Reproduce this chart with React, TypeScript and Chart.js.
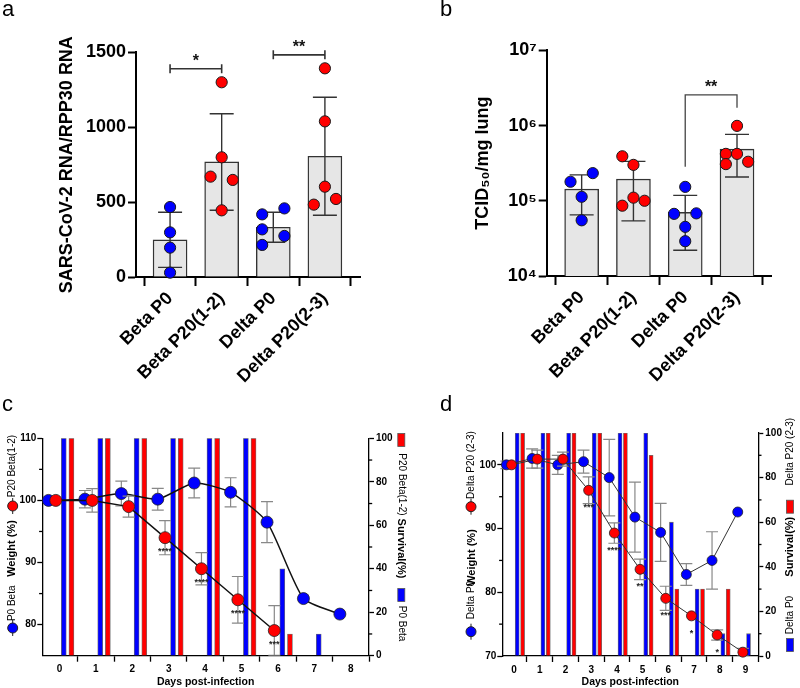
import React, { useEffect, useRef } from 'react';
import { Chart, registerables } from 'chart.js';

Chart.register(...registerables);

const FONT = "'Liberation Sans', Arimo, Arial, Helvetica, sans-serif";
const BLUE = '#0000ff';
const RED = '#ff0000';

/* ---------------- data: panel a ---------------- */
const GROUPS = ['Beta P0', 'Beta P20(1-2)', 'Delta P0', 'Delta P20(2-3)'];
const A_MEAN = [248, 768, 332, 806];
const A_SD = [184, 322, 100, 394];
const A_BETA_P0 = [467, 298, 196, 29];
const A_BETA_P20 = [1300, 799, 670, 648, 445];
const A_DELTA_P0 = [418, 458, 318, 274, 214];
const A_DELTA_P20 = [1393, 1039, 603, 483, 521];
const A_TICKS = [0, 500, 1000, 1500];
const A_SIG = [{ a: 0, b: 1, text: '*' }, { a: 2, b: 3, text: '**' }];

/* ---------------- data: panel b ---------------- */
const B_MEAN = [143000, 194000, 70000, 485000];
const B_SD = [78000, 140000, 48000, 278000];
const B_BETA_P0 = [179000, 233000, 113000, 55000];
const B_BETA_P20 = [390000, 300000, 110000, 100000, 86000];
const B_DELTA_P0 = [153000, 67000, 68000, 45000, 29000];
const B_DELTA_P20 = [990000, 420000, 420000, 307000, 330000];
const B_TICKS = [1e4, 1e5, 1e6, 1e7];
const B_TICK_LABELS = ['10\u2074', '10\u2075', '10\u2076', '10\u2077'];
const B_SIG = [{ a: 2, b: 3, text: '**' }];

/* ---------------- data: panel c ---------------- */
const C_DAYS = [0, 1, 2, 3, 4, 5, 6, 7, 8];
const C_P0_WEIGHT = [100, 100.2, 101.1, 100.2, 102.8, 101.3, 96.5, 84.2, 81.7];
const C_P0_SD = [0, 1.4, 2.0, 1.75, 2.4, 2.35, 3.3, 0, 0];
const C_P20_WEIGHT = [100, 100, 99.0, 94.0, 89.0, 84.0, 79.05];
const C_P20_SD = [0, 1.9, 1.7, 2.75, 2.6, 3.75, 4.0];
const C_P20_STARS = ['', '', '', '****', '****', '****', '***'];
const C_P0_SURVIVAL = [100, 100, 100, 100, 100, 100, 40, 10, 0];
const C_P20_SURVIVAL = [100, 100, 100, 100, 100, 100, 10, 0, 0];
const C_WEIGHT_TICKS = [80, 85, 90, 95, 100, 105, 110];

/* ---------------- data: panel d ---------------- */
const D_DAYS = [0, 1, 2, 3, 4, 5, 6, 7, 8, 9];
const D_P0_WEIGHT = [100, 101.0, 100, 100.5, 98.0, 91.8, 89.4, 82.8, 85.0, 92.6];
const D_P0_SD = [0.6, 1.5, 1.5, 1.8, 6.0, 5.5, 4.55, 1.7, 4.5, 0];
const D_P20_WEIGHT = [100, 100.9, 100.9, 96.0, 89.3, 83.6, 79.05, 76.3, 73.3, 70.6];
const D_P20_SD = [0, 1.4, 1.1, 2.1, 1.6, 1.6, 1.9, 0, 0.8, 0.6];
const D_P20_STARS = ['', '', '', '***', '****', '**', '***', '*', '*', ''];
const D_P0_SURVIVAL = [100, 100, 100, 100, 100, 100, 60, 30, 10, 10];
const D_P20_SURVIVAL = [100, 100, 100, 100, 100, 90, 30, 30, 30, 0];
const D_WEIGHT_TICKS = [70, 75, 80, 85, 90, 95, 100];
const SURVIVAL_TICKS = [0, 10, 20, 30, 40, 50, 60, 70, 80, 90, 100];

/* ---------------- styling / layout constants ---------------- */
const GROUP_COLORS = [BLUE, RED, BLUE, RED];
const JITTER_STEP = 0.215;
const A_JITTER = [[0, 0, 0, 0], [0, 0, -1, 1, 0], [-1, 1, -1, 1, -1], [0, 0, 0, -1, 1]];
const B_JITTER = [[-1, 1, 0, 0], [-1, 0, 0, 1, -1], [0, -1, 1, 0, 0], [0, -1, 0, -1, 1]];
const P0_POINT_SHIFT = -0.3;
const P20_POINT_SHIFT = -0.1;
const P0_BAR_SHIFT = 0.12;
const P20_BAR_SHIFT = 0.33;

const font = (size: number, bold = true) => ({ family: FONT, size, weight: bold ? 'bold' : 'normal' } as any);

function axisStyle(width: number, tickLength: number, isMajor?: (v: number) => boolean) {
  return {
    grid: {
      display: true, drawOnChartArea: false, drawTicks: true, tickLength, tickWidth: width,
      tickColor: isMajor ? (c: any) => (c.tick && isMajor(c.tick.value) ? '#000' : 'rgba(0,0,0,0)') : '#000',
    },
    border: { display: true, color: '#000', width },
  };
}

/* ---------------- plugins ---------------- */
function drawErrors(chart: any, index: number, when: string) {
  const ds: any = chart.data.datasets[index];
  if (!ds || !ds.errors || ds.errorWhen !== when) return;
  const meta = chart.getDatasetMeta(index);
  const yS = chart.scales[meta.yAxisID];
  const { ctx, chartArea } = chart;
  ctx.save();
  ctx.beginPath();
  ctx.rect(chartArea.left - 20, chartArea.top - 30, chartArea.width + 40, chartArea.height + 30);
  ctx.clip();
  ctx.strokeStyle = ds.errorColor;
  ctx.lineWidth = ds.errorWidth;
  meta.data.forEach((el: any, i: number) => {
    const e = ds.errors[i];
    const raw = ds.data[i];
    const v = raw == null ? null : typeof raw === 'number' ? raw : raw.y;
    if (!e || v == null) return;
    const x = el.x;
    const y1 = yS.getPixelForValue(v + e);
    const y2 = yS.getPixelForValue(v - e);
    const c = ds.errorCap;
    ctx.beginPath();
    ctx.moveTo(x, y1); ctx.lineTo(x, y2);
    ctx.moveTo(x - c, y1); ctx.lineTo(x + c, y1);
    ctx.moveTo(x - c, y2); ctx.lineTo(x + c, y2);
    ctx.stroke();
  });
  ctx.restore();
}

const errorBarPlugin = {
  id: 'errorBars',
  beforeDatasetDraw(chart: any, args: any) { drawErrors(chart, args.index, 'before'); },
  afterDatasetDraw(chart: any, args: any) { drawErrors(chart, args.index, 'after'); },
};

// short minor tick marks on the vertical axes of panels c and d
const minorTickPlugin = {
  id: 'minorTicks',
  afterDraw(chart: any) {
    const { ctx } = chart;
    ctx.save();
    ctx.strokeStyle = '#000';
    ctx.lineWidth = 1.3;
    for (const id of ['y', 'y2']) {
      const s = chart.scales[id];
      if (!s) continue;
      const step = id === 'y' ? 10 : 20;
      for (const t of s.ticks) {
        if (t.value % step === 0) continue;
        const y = s.getPixelForValue(t.value);
        const x0 = id === 'y' ? s.right : s.left;
        const x1 = id === 'y' ? s.right - 3.2 : s.left + 3.2;
        ctx.beginPath();
        ctx.moveTo(x0, y); ctx.lineTo(x1, y);
        ctx.stroke();
      }
    }
    ctx.restore();
  },
};

function bracketPlugin(sig: { a: number; b: number; text: string }[], groups: number[][], means: number[], sds: number[], style: 'flat' | 'legs') {
  return {
    id: 'brackets',
    afterDatasetsDraw(chart: any) {
      const { ctx } = chart;
      const xS = chart.scales.x;
      const yS = chart.scales.y;
      const top = (g: number) => Math.min(...groups[g].map((v) => yS.getPixelForValue(v)), yS.getPixelForValue(means[g] + sds[g]));
      ctx.save();
      for (const s of sig) {
        const x1 = xS.getPixelForValue(s.a);
        const x2 = xS.getPixelForValue(s.b);
        const ta = top(s.a);
        const tb = top(s.b);
        ctx.beginPath();
        let yl: number;
        if (style === 'flat') {
          yl = Math.min(ta, tb) - 13.5;
          ctx.strokeStyle = '#333';
          ctx.lineWidth = 1.6;
          ctx.moveTo(x1, yl); ctx.lineTo(x2, yl);
          ctx.moveTo(x1, yl - 4.5); ctx.lineTo(x1, yl + 4.5);
          ctx.moveTo(x2, yl - 4.5); ctx.lineTo(x2, yl + 4.5);
        } else {
          yl = Math.min(ta, tb) - 31;
          ctx.strokeStyle = '#444';
          ctx.lineWidth = 1.3;
          ctx.moveTo(x1, ta - 20); ctx.lineTo(x1, yl); ctx.lineTo(x2, yl); ctx.lineTo(x2, tb - 18);
        }
        ctx.stroke();
        ctx.fillStyle = '#111';
        ctx.font = `bold 16px ${FONT}`;
        ctx.textAlign = 'center';
        ctx.textBaseline = 'alphabetic';
        ctx.fillText(s.text, (x1 + x2) / 2, yl - 3.2);
      }
      ctx.restore();
    },
  };
}

function starsPlugin(dsIndex: number, stars: string[], offset: number) {
  return {
    id: 'stars',
    afterDatasetsDraw(chart: any) {
      const { ctx } = chart;
      const meta = chart.getDatasetMeta(dsIndex);
      ctx.save();
      ctx.fillStyle = '#222';
      ctx.font = `bold 9px ${FONT}`;
      ctx.textAlign = 'center';
      ctx.textBaseline = 'alphabetic';
      meta.data.forEach((el: any, i: number) => {
        if (stars[i]) ctx.fillText(stars[i], el.x, el.y + offset);
      });
      ctx.restore();
    },
  };
}

type LegendItem = { kind: 'text' | 'circle' | 'rect'; x: number; y: number; text?: string; bold?: boolean; size?: number; color?: string; rot?: number };

function sideLegendPlugin(items: LegendItem[]) {
  return {
    id: 'sideLegend',
    afterDraw(chart: any) {
      const { ctx } = chart;
      ctx.save();
      for (const it of items) {
        if (it.kind === 'text') {
          ctx.save();
          ctx.translate(it.x, it.y);
          ctx.rotate(it.rot ?? -Math.PI / 2);
          ctx.font = `${it.bold ? 'bold ' : ''}${it.size ?? 10}px ${FONT}`;
          ctx.fillStyle = '#000';
          ctx.textAlign = 'center';
          ctx.textBaseline = 'middle';
          ctx.fillText(it.text || '', 0, 0);
          ctx.restore();
        } else if (it.kind === 'circle') {
          ctx.strokeStyle = '#222';
          ctx.lineWidth = 1;
          ctx.beginPath();
          ctx.moveTo(it.x, it.y - 8); ctx.lineTo(it.x, it.y + 8);
          ctx.stroke();
          ctx.beginPath();
          ctx.arc(it.x, it.y, 5, 0, Math.PI * 2);
          ctx.fillStyle = it.color || '#000';
          ctx.fill();
          ctx.stroke();
        } else {
          ctx.fillStyle = it.color || '#000';
          ctx.fillRect(it.x - 3.5, it.y - 6.5, 7, 13);
          ctx.strokeStyle = '#555';
          ctx.lineWidth = 0.8;
          ctx.strokeRect(it.x - 3.5, it.y - 6.5, 7, 13);
        }
      }
      ctx.restore();
    },
  };
}

/* ---------------- panel builders ---------------- */
function barPanel(spec: {
  groups: number[][]; means: number[]; sds: number[]; jitter: number[][];
  yType: string; yMin: number; yMax: number; yTicks: number[]; yLabel: (v: number) => string; yTitle: string;
  pad: any; yWidth: number; xHeight: number; xMin: number; xMax: number;
  sig: { a: number; b: number; text: string }[]; sigStyle: 'flat' | 'legs';
}): any {
  const datasets: any[] = [
    {
      type: 'bar',
      data: spec.means.map((m, i) => ({ x: i, y: m })),
      backgroundColor: '#e6e6e6',
      borderColor: '#333',
      borderWidth: 1.4,
      barThickness: 34,
      order: 5,
      errors: spec.sds,
      errorWhen: 'after',
      errorColor: '#333',
      errorWidth: 1.4,
      errorCap: 12,
    },
    ...spec.groups.map((vals, i) => ({
      type: 'scatter',
      data: vals.map((v, j) => ({ x: i + spec.jitter[i][j] * JITTER_STEP, y: v })),
      pointRadius: 5.6,
      pointBackgroundColor: GROUP_COLORS[i],
      pointBorderColor: '#1a1a1a',
      pointBorderWidth: 1,
      order: 1,
      clip: false,
    })),
  ];
  return {
    type: 'bar',
    data: { datasets },
    options: {
      responsive: false,
      animation: false,
      layout: { padding: spec.pad },
      plugins: { legend: { display: false }, tooltip: { enabled: false } },
      scales: {
        x: {
          type: 'linear', min: spec.xMin, max: spec.xMax, offset: false,
          ...axisStyle(2, 9),
          afterBuildTicks: (s: any) => { s.ticks = GROUPS.map((_, i) => ({ value: i })); },
          afterCalculateLabelRotation: (s: any) => { s.labelRotation = 45; },
          afterFit: (s: any) => { s.height = spec.xHeight; },
          ticks: {
            autoSkip: false, minRotation: 45, maxRotation: 45, padding: 2, color: '#000', font: font(18),
            callback: (v: any) => GROUPS[v] ?? '',
          },
        },
        y: {
          type: spec.yType, min: spec.yMin, max: spec.yMax,
          ...axisStyle(2, 8),
          afterBuildTicks: (s: any) => { s.ticks = spec.yTicks.map((v) => ({ value: v })); },
          afterFit: (s: any) => { s.width = spec.yWidth; },
          ticks: { autoSkip: false, padding: 2, color: '#000', font: font(18), callback: (v: any) => spec.yLabel(v) },
          title: { display: true, text: spec.yTitle, color: '#000', font: font(18), padding: { top: 4, bottom: 4 } },
        },
      },
    },
    plugins: [errorBarPlugin, bracketPlugin(spec.sig, spec.groups, spec.means, spec.sds, spec.sigStyle)],
  };
}

function weightPanel(spec: {
  days: number[]; p0W: number[]; p0SD: number[]; p20W: number[]; p20SD: number[]; stars: string[];
  p0S: number[]; p20S: number[]; wMin: number; wMax: number; wTicks: number[]; xMin: number; xMax: number;
  pad: any; xHeight: number; barW: number; pointR: number; lineW: number; lineColor: string; tension: number;
  starOffset: number; legend: LegendItem[];
}): any {
  const bar = (vals: number[], shift: number, color: string, order: number) => ({
    type: 'bar', yAxisID: 'y2',
    data: spec.days.map((d, i) => ({ x: d + shift, y: vals[i] ? vals[i] : null })),
    backgroundColor: color, borderColor: 'rgba(95,95,95,0.9)', borderWidth: 0.8,
    barThickness: spec.barW, maxBarThickness: spec.barW, grouped: false, order,
  });
  const line = (vals: number[], sd: number[], shift: number, color: string, order: number, tension: number) => ({
    type: 'line', yAxisID: 'y',
    data: vals.map((w, i) => ({ x: spec.days[i] + shift, y: w })),
    borderColor: spec.lineColor, borderWidth: spec.lineW, backgroundColor: color,
    pointRadius: spec.pointR, pointBackgroundColor: color, pointBorderColor: '#222', pointBorderWidth: 0.8,
    tension, order, clip: false, fill: false,
    errors: sd, errorWhen: 'before', errorColor: '#888', errorWidth: 1.2, errorCap: 6,
  });
  const datasets = [
    bar(spec.p0S, P0_BAR_SHIFT, BLUE, 5),
    bar(spec.p20S, P20_BAR_SHIFT, RED, 4),
    line(spec.p0W, spec.p0SD, P0_POINT_SHIFT, BLUE, 2, spec.tension),
    line(spec.p20W, spec.p20SD, P20_POINT_SHIFT, RED, 1, 0),
  ];
  return {
    type: 'bar',
    data: { datasets },
    options: {
      responsive: false,
      animation: false,
      layout: { padding: spec.pad },
      plugins: { legend: { display: false }, tooltip: { enabled: false } },
      scales: {
        x: {
          type: 'linear', min: spec.xMin, max: spec.xMax, offset: false,
          ...axisStyle(1.3, 6),
          afterBuildTicks: (s: any) => { s.ticks = spec.days.map((v) => ({ value: v })); },
          afterFit: (s: any) => { s.height = spec.xHeight; },
          ticks: { autoSkip: false, maxRotation: 0, padding: 2, color: '#000', font: font(10) },
          title: { display: true, text: 'Days post-infection', color: '#000', font: font(10.5), padding: { top: 0, bottom: 0 } },
        },
        y: {
          type: 'linear', position: 'left', min: spec.wMin, max: spec.wMax,
          ...axisStyle(1.3, 5, (v) => v % 10 === 0),
          afterBuildTicks: (s: any) => { s.ticks = spec.wTicks.map((v) => ({ value: v })); },
          afterFit: (s: any) => { s.width = 22.3; },
          ticks: { autoSkip: false, padding: 1, color: '#000', font: font(10), callback: (v: any) => (v % 10 === 0 ? String(v) : '') },
        },
        y2: {
          type: 'linear', position: 'right', min: 0, max: 100,
          ...axisStyle(1.3, 5, (v) => v % 20 === 0),
          afterBuildTicks: (s: any) => { s.ticks = SURVIVAL_TICKS.map((v) => ({ value: v })); },
          afterFit: (s: any) => { s.width = 26; },
          ticks: { autoSkip: false, padding: 2, color: '#000', font: font(10), callback: (v: any) => (v % 20 === 0 ? String(v) : '') },
        },
      },
    },
    plugins: [errorBarPlugin, minorTickPlugin, starsPlugin(3, spec.stars, spec.starOffset), sideLegendPlugin(spec.legend)],
  };
}

const buildA = () => barPanel({
  groups: [A_BETA_P0, A_BETA_P20, A_DELTA_P0, A_DELTA_P20], means: A_MEAN, sds: A_SD, jitter: A_JITTER,
  yType: 'linear', yMin: 0, yMax: 1500, yTicks: A_TICKS, yLabel: (v) => String(v),
  yTitle: 'SARS-CoV-2 RNA/RPP30 RNA',
  pad: { left: 52, top: 52.3, right: 40, bottom: 0 }, yWidth: 84, xHeight: 123, xMin: -0.66, xMax: 3.68,
  sig: A_SIG, sigStyle: 'flat',
});

const buildB = () => barPanel({
  groups: [B_BETA_P0, B_BETA_P20, B_DELTA_P0, B_DELTA_P20], means: B_MEAN, sds: B_SD, jitter: B_JITTER,
  yType: 'logarithmic', yMin: 1e4, yMax: 1e7, yTicks: B_TICKS,
  yLabel: (v) => B_TICK_LABELS[B_TICKS.indexOf(v)] ?? '',
  yTitle: 'TCID\u2085\u2080/mg lung',
  pad: { left: 68, top: 50.3, right: 28.3, bottom: 0 }, yWidth: 78.7, xHeight: 124, xMin: -0.675, xMax: 3.67,
  sig: B_SIG, sigStyle: 'legs',
});

const buildC = () => weightPanel({
  days: C_DAYS, p0W: C_P0_WEIGHT, p0SD: C_P0_SD, p20W: C_P20_WEIGHT, p20SD: C_P20_SD, stars: C_P20_STARS,
  p0S: C_P0_SURVIVAL, p20S: C_P20_SURVIVAL, wMin: 75, wMax: 110, wTicks: C_WEIGHT_TICKS, xMin: -0.47, xMax: 8.5,
  pad: { left: 20, top: 98.3, right: 15, bottom: 0 }, xHeight: 32.3, barW: 5, pointR: 6, lineW: 1.5, lineColor: '#111',
  tension: 0.2, starOffset: 16,
  legend: [
    { kind: 'circle', x: 12.7, y: 288, color: BLUE },
    { kind: 'text', x: 12.7, y: 263.3, text: 'P0 Beta', size: 10 },
    { kind: 'text', x: 11.5, y: 208.5, text: 'Weight (%)', bold: true, size: 11 },
    { kind: 'circle', x: 12.7, y: 166, color: RED },
    { kind: 'text', x: 12.7, y: 126, text: 'P20 Beta(1-2)', size: 10 },
    { kind: 'rect', x: 401.3, y: 100, color: RED },
    { kind: 'text', x: 401.5, y: 144.5, text: 'P20 Beta(1-2)', size: 10, rot: Math.PI / 2 },
    { kind: 'text', x: 401.5, y: 208.5, text: 'Survival(%)', bold: true, size: 11, rot: Math.PI / 2 },
    { kind: 'rect', x: 401.3, y: 255, color: BLUE },
    { kind: 'text', x: 401.5, y: 283.5, text: 'P0 Beta', size: 10, rot: Math.PI / 2 },
  ],
});

const buildD = () => weightPanel({
  days: D_DAYS, p0W: D_P0_WEIGHT, p0SD: D_P0_SD, p20W: D_P20_WEIGHT, p20SD: D_P20_SD, stars: D_P20_STARS,
  p0S: D_P0_SURVIVAL, p20S: D_P20_SURVIVAL, wMin: 70, wMax: 105, wTicks: D_WEIGHT_TICKS, xMin: -0.46, xMax: 9.5,
  pad: { left: 70, top: 93, right: 15.7, bottom: 0 }, xHeight: 32, barW: 4, pointR: 5, lineW: 1, lineColor: '#333',
  tension: 0, starOffset: 20,
  legend: [
    { kind: 'circle', x: 61, y: 291.7, color: BLUE },
    { kind: 'text', x: 61, y: 260, text: 'Delta P0', size: 10 },
    { kind: 'text', x: 61.5, y: 217.5, text: 'Weight (%)', bold: true, size: 11 },
    { kind: 'circle', x: 61, y: 166.7, color: RED },
    { kind: 'text', x: 61, y: 125, text: 'Delta P20 (2-3)', size: 10 },
    { kind: 'text', x: 380, y: 111.7, text: 'Delta P20 (2-3)', size: 10 },
    { kind: 'rect', x: 380, y: 166.7, color: RED },
    { kind: 'text', x: 380, y: 206.7, text: 'Survival(%)', bold: true, size: 11 },
    { kind: 'text', x: 380, y: 275, text: 'Delta P0', size: 10 },
    { kind: 'rect', x: 380, y: 305, color: BLUE },
  ],
});

function ChartBox({ left, top, width, height, build }: { left: number; top: number; width: number; height: number; build: () => any }) {
  const ref = useRef<HTMLCanvasElement>(null);
  useEffect(() => {
    const chart = new Chart(ref.current as HTMLCanvasElement, build());
    return () => chart.destroy();
  }, []);
  return <canvas ref={ref} width={width} height={height} style={{ position: 'absolute', left, top, width, height }} />;
}

function Letter({ text, left, top }: { text: string; left: number; top: number }) {
  return (
    <div style={{ position: 'absolute', left, top, fontFamily: FONT, fontSize: 22, lineHeight: '22px', color: '#000' }}>{text}</div>
  );
}

export default function App() {
  return (
    <div style={{ position: 'absolute', left: 0, top: 0, width: 800, height: 688, background: '#fff', overflow: 'hidden' }}>
      <ChartBox left={0} top={340} width={410} height={348} build={buildC} />
      <ChartBox left={410} top={340} width={390} height={348} build={buildD} />
      <ChartBox left={0} top={0} width={400} height={400} build={buildA} />
      <ChartBox left={400} top={0} width={400} height={400} build={buildB} />
      <Letter text="a" left={2} top={-1.6} />
      <Letter text="b" left={440} top={-1.6} />
      <Letter text="c" left={2} top={393.4} />
      <Letter text="d" left={440} top={393.4} />
    </div>
  );
}
